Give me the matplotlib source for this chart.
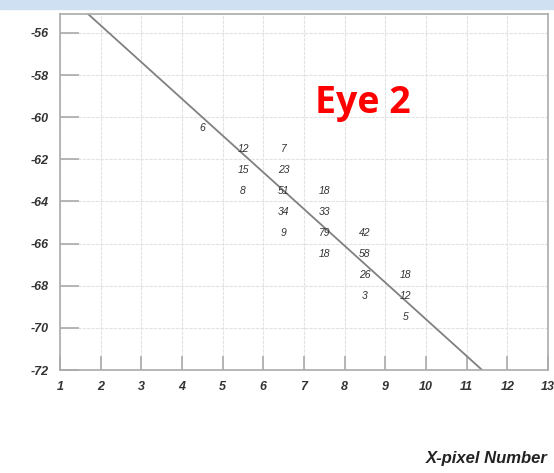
import numpy as np
import matplotlib.pyplot as plt
from matplotlib.patches import Rectangle

plt.rcParams['axes.unicode_minus'] = False

# conteúdo dos bins (centro x, centro y, contagem)
bin_x = [4.5, 5.5, 5.5, 5.5, 6.5, 6.5, 6.5, 6.5, 6.5,
         7.5, 7.5, 7.5, 7.5, 8.5, 8.5, 8.5, 8.5, 9.5, 9.5, 9.5]
bin_y = [-60.5, -61.5, -62.5, -63.5, -61.5, -62.5, -63.5, -64.5, -65.5,
         -63.5, -64.5, -65.5, -66.5, -65.5, -66.5, -67.5, -68.5, -67.5, -68.5, -69.5]
counts = [6, 12, 15, 8, 7, 23, 51, 34, 9,
          18, 33, 79, 18, 42, 58, 26, 3, 18, 12, 5]

# reta ajustada
fit_x = [1.69, 11.38]
fit_y = [-55.1, -72.0]

xticks = np.arange(1, 14)
yticks = np.arange(-72, -55, 2)

fig = plt.figure(figsize=(5.54, 4.73), dpi=100)
fig.patches.append(Rectangle((0, 0.981), 1, 0.019, transform=fig.transFigure,
                             color='#cfe0f2', zorder=0))
ax = fig.add_axes([60/554, 103/473, 488/554, 356/473])

ax.plot(fit_x, fit_y, color='#808080', lw=1.3)
for x, y, c in zip(bin_x, bin_y, counts):
    ax.text(x, y, str(c), ha='center', va='center', fontsize=7.5,
            color='#333333', family='Liberation Sans', style='italic')

ax.set_xlim(1, 13)
ax.set_ylim(-72, -55.1)
ax.set_xticks(xticks)
ax.set_yticks(yticks)
ax.grid(True, color='#e2e2e2', lw=0.8, ls=(0, (3, 1)))
ax.tick_params(axis='y', direction='in', length=14, color='#aaaaaa', width=1.2)
ax.tick_params(axis='x', direction='in', length=10, color='#aaaaaa', width=1.2)
ax.tick_params(labelsize=9, labelcolor='#333333', pad=8)
for lab in ax.get_xticklabels() + ax.get_yticklabels():
    lab.set_family('Liberation Sans')
    lab.set_style('italic')
    lab.set_weight('bold')
for s in ax.spines.values():
    s.set_color('#aaaaaa')
    s.set_linewidth(1.2)

ax.text(0.62, 0.75, 'Eye 2', transform=ax.transAxes, color='#ff0000',
        fontsize=27, fontweight='bold', family='Open Sans', ha='center', va='center')
fig.text(548/554, 1 - 458/473, 'X-pixel Number', ha='right', va='center',
         fontsize=12, family='Liberation Sans', style='italic', weight='bold',
         color='#222222')

plt.savefig('out.png', dpi=100)
